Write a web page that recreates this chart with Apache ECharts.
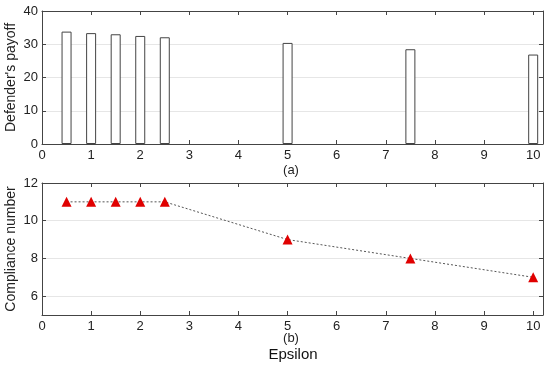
<!DOCTYPE html>
<html><head><meta charset="utf-8">
<script src="https://cdn.jsdelivr.net/npm/echarts@6/dist/echarts.min.js"></script>
<style>html,body{margin:0;padding:0;background:#fff}#c{width:550px;height:367px}</style>
</head><body><div id="c"></div>
<script>
var epsilon = [0.5, 1, 1.5, 2, 2.5, 5, 7.5, 10];
var payoff = [33.8, 33.35, 33.0, 32.5, 32.1, 30.4, 28.5, 26.9];
var compliance = [11, 11, 11, 11, 11, 9, 8, 7];

var font = 'Liberation Sans, Arial, sans-serif';
var axisCol = '#444';
function xAx(grid, pos, labels) {
  return {type:'value', gridIndex:grid, position:pos, min:0, max:10.2, splitNumber:10,
    axisLine:{show:true, onZero:false, lineStyle:{color:axisCol}},
    axisTick:{show:true, inside:true, length:4, lineStyle:{color:axisCol}},
    axisLabel:{show:labels, showMaxLabel:false, color:'#222', fontFamily:font, fontSize:13, margin:5},
    splitLine:{show:false}};
}
function yAx(grid, pos, labels, min, max, split, name) {
  return {type:'value', gridIndex:grid, position:pos, min:min, max:max, splitNumber:split,
    name: labels ? name : '', nameLocation:'middle', nameGap:24, nameMoveOverlap:false,
    nameTextStyle:{color:'#222', fontFamily:font, fontSize:14},
    axisLine:{show:true, onZero:false, lineStyle:{color:axisCol}},
    axisTick:{show:true, inside:true, length:4, lineStyle:{color:axisCol}},
    axisLabel:{show:labels, showMinLabel: min===0, color:'#222', fontFamily:font, fontSize:13, margin:4},
    splitLine:{show:labels, lineStyle:{color:'#e6e6e6', width:1}}};
}
var chart = echarts.init(document.getElementById('c'), null, {renderer:'canvas'});
chart.setOption({
  animation:false,
  grid:[
    {left:42, right:7, top:11, height:133, outerBoundsMode:'none', containLabel:false},
    {left:42, right:7, top:183, height:132, outerBoundsMode:'none', containLabel:false}
  ],
  xAxis:[xAx(0,'bottom',true), xAx(0,'top',false), xAx(1,'bottom',true), xAx(1,'top',false)],
  yAxis:[yAx(0,'left',true,0,40,4,"Defender's payoff"), yAx(0,'right',false,0,40,4,''),
         yAx(1,'left',true,5,12,4,'Compliance number'), yAx(1,'right',false,5,12,4,'')],
  graphic:[
    {type:'text', x:291, y:170, style:{text:'(a)', fill:'#222', font:'13px '+font, align:'center', verticalAlign:'middle'}},
    {type:'text', x:291, y:338, style:{text:'(b)', fill:'#222', font:'13px '+font, align:'center', verticalAlign:'middle'}},
    {type:'text', x:293, y:355, style:{text:'Epsilon', fill:'#111', font:'15px '+font, align:'center', verticalAlign:'middle'}}
  ],
  series:[
    {type:'bar', xAxisIndex:0, yAxisIndex:0, barWidth:10,
     data: epsilon.map(function(e,i){return [e, payoff[i]];}),
     itemStyle:{color:'#fff', borderColor:'#444', borderWidth:1}},
    {type:'line', xAxisIndex:2, yAxisIndex:2,
     data: epsilon.map(function(e,i){return [e, compliance[i]];}),
     symbol:'triangle', symbolSize:10,
     itemStyle:{color:'#e00000'},
     lineStyle:{color:'#555', width:1, type:[2,2]}}
  ]
});
</script></body></html>
